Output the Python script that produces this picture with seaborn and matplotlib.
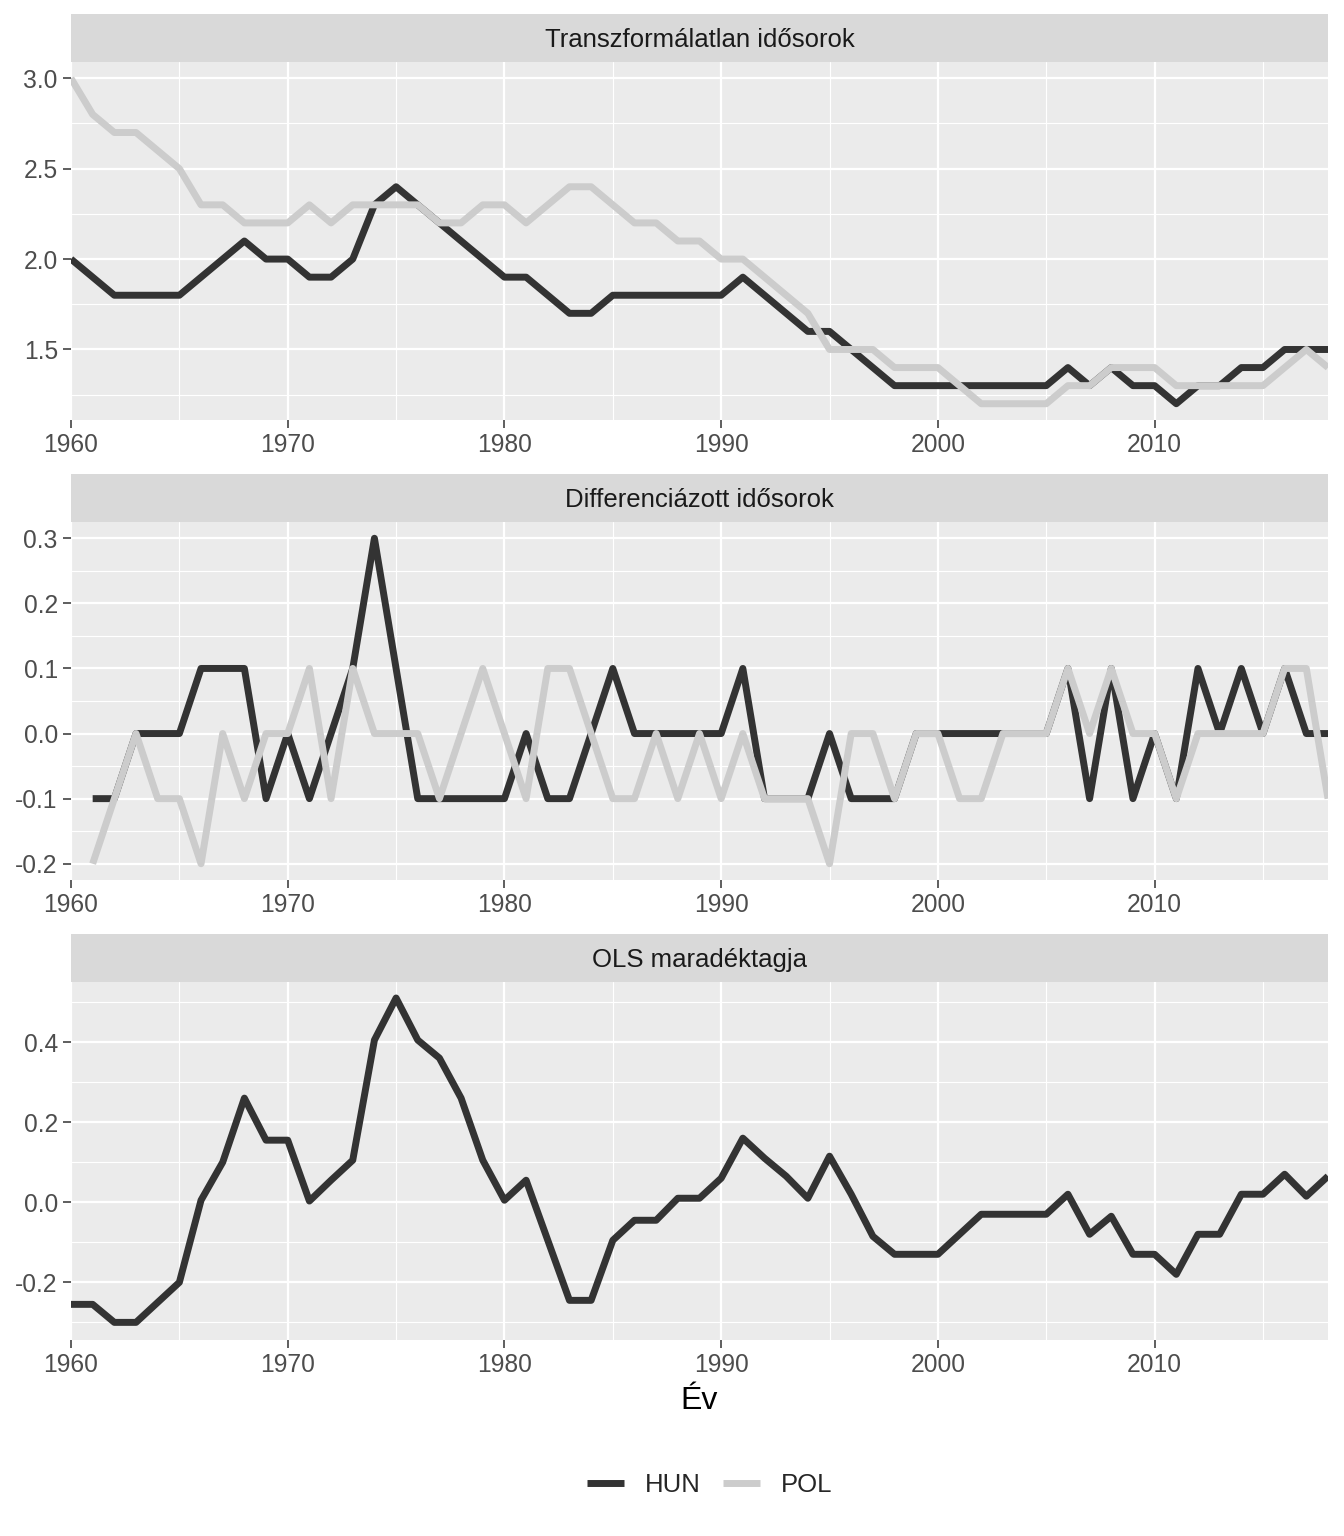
import numpy as np
import pandas as pd
import seaborn as sns
import matplotlib.pyplot as plt
from matplotlib.ticker import MultipleLocator, AutoMinorLocator

#%% data
years = list(range(1960, 2019))
yearsDiff = list(range(1961, 2019))

hunLevel = [2.0, 1.9, 1.8, 1.8, 1.8, 1.8, 1.9, 2.0, 2.1, 2.0,
            2.0, 1.9, 1.9, 2.0, 2.3, 2.4, 2.3, 2.2, 2.1, 2.0,
            1.9, 1.9, 1.8, 1.7, 1.7, 1.8, 1.8, 1.8, 1.8, 1.8,
            1.8, 1.9, 1.8, 1.7, 1.6, 1.6, 1.5, 1.4, 1.3, 1.3,
            1.3, 1.3, 1.3, 1.3, 1.3, 1.3, 1.4, 1.3, 1.4, 1.3,
            1.3, 1.2, 1.3, 1.3, 1.4, 1.4, 1.5, 1.5, 1.5]
polLevel = [3.0, 2.8, 2.7, 2.7, 2.6, 2.5, 2.3, 2.3, 2.2, 2.2,
            2.2, 2.3, 2.2, 2.3, 2.3, 2.3, 2.3, 2.2, 2.2, 2.3,
            2.3, 2.2, 2.3, 2.4, 2.4, 2.3, 2.2, 2.2, 2.1, 2.1,
            2.0, 2.0, 1.9, 1.8, 1.7, 1.5, 1.5, 1.5, 1.4, 1.4,
            1.4, 1.3, 1.2, 1.2, 1.2, 1.2, 1.3, 1.3, 1.4, 1.4,
            1.4, 1.3, 1.3, 1.3, 1.3, 1.3, 1.4, 1.5, 1.4]

hunDiff = [-0.1, -0.1, 0.0, 0.0, 0.0, 0.1, 0.1, 0.1, -0.1,
           0.0, -0.1, 0.0, 0.1, 0.3, 0.1, -0.1, -0.1, -0.1, -0.1,
           -0.1, 0.0, -0.1, -0.1, 0.0, 0.1, 0.0, 0.0, 0.0, 0.0,
           0.0, 0.1, -0.1, -0.1, -0.1, 0.0, -0.1, -0.1, -0.1, 0.0,
           0.0, 0.0, 0.0, 0.0, 0.0, 0.0, 0.1, -0.1, 0.1, -0.1,
           0.0, -0.1, 0.1, 0.0, 0.1, 0.0, 0.1, 0.0, 0.0]
polDiff = [-0.2, -0.1, 0.0, -0.1, -0.1, -0.2, 0.0, -0.1, 0.0,
           0.0, 0.1, -0.1, 0.1, 0.0, 0.0, 0.0, -0.1, 0.0, 0.1,
           0.0, -0.1, 0.1, 0.1, 0.0, -0.1, -0.1, 0.0, -0.1, 0.0,
           -0.1, 0.0, -0.1, -0.1, -0.1, -0.2, 0.0, 0.0, -0.1, 0.0,
           0.0, -0.1, -0.1, 0.0, 0.0, 0.0, 0.1, 0.0, 0.1, 0.0,
           0.0, -0.1, 0.0, 0.0, 0.0, 0.0, 0.1, 0.1, -0.1]

olsResid = [-0.255, -0.255, -0.30, -0.30, -0.25, -0.20, 0.005, 0.10, 0.26, 0.155,
            0.155, 0.003, 0.055, 0.105, 0.405, 0.51, 0.405, 0.36, 0.26, 0.105,
            0.005, 0.055, -0.095, -0.245, -0.245, -0.095, -0.045, -0.045, 0.01, 0.01,
            0.06, 0.16, 0.11, 0.065, 0.01, 0.115, 0.02, -0.085, -0.13, -0.13,
            -0.13, -0.08, -0.03, -0.03, -0.03, -0.03, 0.02, -0.08, -0.035, -0.13,
            -0.13, -0.18, -0.08, -0.08, 0.02, 0.02, 0.07, 0.015, 0.065]

panelTitles = ['Transzformálatlan idősorok', 'Differenciázott idősorok', 'OLS maradéktagja']
countryOrder = ['HUN', 'POL']
countryColors = {'HUN': '#333333', 'POL': '#CCCCCC'}

#%% tidy frames
dfLevel = pd.DataFrame({'year': years * 2,
                        'value': hunLevel + polLevel,
                        'country': ['HUN'] * len(years) + ['POL'] * len(years)})
dfDiff = pd.DataFrame({'year': yearsDiff * 2,
                       'value': hunDiff + polDiff,
                       'country': ['HUN'] * len(yearsDiff) + ['POL'] * len(yearsDiff)})
dfResid = pd.DataFrame({'year': years, 'value': olsResid, 'country': 'HUN'})

#%% plot settings
sns.set_theme(style='darkgrid', rc={'axes.facecolor': '#EBEBEB',
                                    'grid.color': 'white',
                                    'axes.edgecolor': '#EBEBEB'})
plt.rcParams['font.family'] = ['Liberation Sans', 'DejaVu Sans']

W, H = 1344, 1536
fig = plt.figure(figsize=(W / 100, H / 100), dpi=100)
fig.patch.set_facecolor('white')

left, right = 71, 1328
panelTops = [62, 522, 982]
panelH = 358
stripH = 48

yMajor = [0.5, 0.1, 0.2]
yLims = [(1.11, 3.09), (-0.225, 0.325), (-0.344, 0.55)]
frames = [dfLevel, dfDiff, dfResid]

for i in range(3):
    top = panelTops[i]
    ax = fig.add_axes([left / W, 1 - (top + panelH) / H, (right - left) / W, panelH / H])
    sns.lineplot(data=frames[i], x='year', y='value', hue='country', hue_order=countryOrder,
                 palette=countryColors, linewidth=5, ax=ax, legend=(i == 0),
                 solid_capstyle='butt', solid_joinstyle='round')
    if i == 0:
        handles, labels = ax.get_legend_handles_labels()
        ax.get_legend().remove()

    ax.set_xlim(1960, 2018)
    ax.set_ylim(*yLims[i])
    ax.xaxis.set_major_locator(MultipleLocator(10))
    ax.xaxis.set_minor_locator(MultipleLocator(5))
    ax.yaxis.set_major_locator(MultipleLocator(yMajor[i]))
    ax.yaxis.set_minor_locator(AutoMinorLocator(2))
    ax.yaxis.set_major_formatter(plt.FuncFormatter(lambda v, p: f'{v:.1f}'))
    ax.grid(which='major', color='white', linewidth=1.6)
    ax.grid(which='minor', color='white', linewidth=0.8)
    ax.tick_params(which='major', length=5.5, width=1.1, color='#333333',
                   labelsize=17.7, labelcolor='#4D4D4D', pad=4, bottom=True, left=True)
    ax.tick_params(which='minor', length=0)
    ax.set_xlabel('')
    ax.set_ylabel('')
    for s in ax.spines.values():
        s.set_visible(False)

    # facet strip
    sax = fig.add_axes([left / W, 1 - top / H, (right - left) / W, stripH / H])
    sax.set_facecolor('#D9D9D9')
    sax.set_xticks([])
    sax.set_yticks([])
    sax.grid(False)
    for s in sax.spines.values():
        s.set_visible(False)
    sax.text(0.5, 0.45, panelTitles[i], ha='center', va='center', fontsize=18.5,
             color='#1A1A1A', transform=sax.transAxes)

fig.text((left + right) / 2 / W, 1 - 1401 / H, 'Év', ha='center', va='center',
         fontsize=23, color='black')

fig.legend(handles, labels, loc='center', bbox_to_anchor=(0.528, 1 - 1485 / H),
           ncol=2, frameon=False, fontsize=18.5, handlelength=1.45,
           handletextpad=0.8, columnspacing=0.85)

fig.savefig('out.png', dpi=100, facecolor='white')
